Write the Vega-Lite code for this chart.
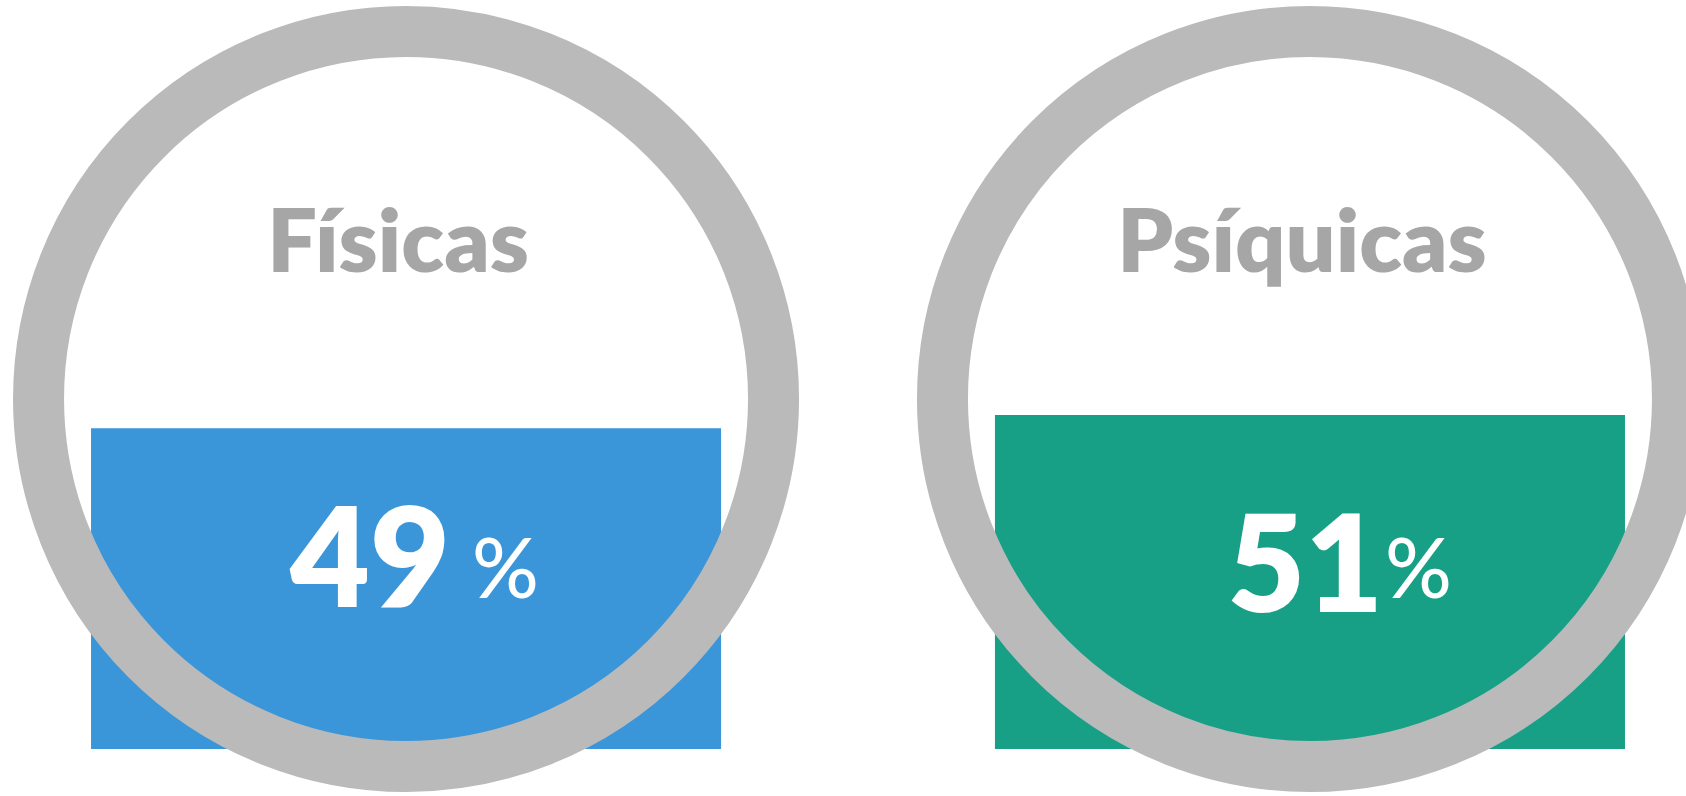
{
  "$schema": "https://vega.github.io/schema/vega-lite/v6.json",
  "width": 1686,
  "height": 796,
  "autosize": {"type": "none"},
  "padding": 0,
  "background": "white",
  "config": {"view": {"stroke": null}},
  "data": {"values": [
    {"cat": "Físicas", "value": 49},
    {"cat": "Psíquicas", "value": 51}
  ]},
  "encoding": {
    "x": {"field": "cat", "type": "nominal", "sort": null, "axis": null,
      "scale": {"type": "band", "range": [0, 1716], "paddingInner": 0.303, "paddingOuter": 0.1007}}
  },
  "layer": [
    {
      "mark": {"type": "bar"},
      "encoding": {
        "y": {"field": "value", "type": "quantitative", "axis": null,
          "scale": {"domain": [-7.18, 114.4], "nice": false, "zero": false}},
        "y2": {"datum": 0},
        "color": {"field": "cat", "type": "nominal", "legend": null,
          "scale": {"domain": ["Físicas", "Psíquicas"], "range": ["#3a96d9", "#17a086"]}}
      }
    },
    {
      "mark": {"type": "point", "shape": "circle", "filled": false, "stroke": "#bababa", "strokeWidth": 51, "size": 540225, "opacity": 1},
      "encoding": {"y": {"datum": 53.46, "type": "quantitative"}}
    },
    {
      "mark": {"type": "text", "font": "Lato", "fontWeight": 800, "fontSize": 88, "color": "#a6a6a6", "align": "center", "baseline": "alphabetic", "dx": -8},
      "encoding": {"text": {"field": "cat"}, "y": {"datum": 72.86, "type": "quantitative"}}
    },
    {
      "transform": [{"filter": "datum.cat === 'Físicas'"}],
      "mark": {"type": "text", "font": "Lato", "fontWeight": 800, "fontSize": 138, "color": "white", "align": "right", "baseline": "alphabetic", "dx": 44},
      "encoding": {"text": {"field": "value"}, "y": {"datum": 21.69, "type": "quantitative"}}
    },
    {
      "transform": [{"filter": "datum.cat === 'Físicas'"}],
      "mark": {"type": "text", "font": "Lato", "fontWeight": 500, "fontSize": 83, "color": "white", "align": "left", "baseline": "alphabetic", "dx": 66, "text": "%"},
      "encoding": {"y": {"datum": 23.06, "type": "quantitative"}}
    },
    {
      "transform": [{"filter": "datum.cat === 'Psíquicas'"}],
      "mark": {"type": "text", "font": "Lato", "fontWeight": 800, "fontSize": 134, "color": "white", "align": "right", "baseline": "alphabetic", "dx": 73},
      "encoding": {"text": {"field": "value"}, "y": {"datum": 20.93, "type": "quantitative"}}
    },
    {
      "transform": [{"filter": "datum.cat === 'Psíquicas'"}],
      "mark": {"type": "text", "font": "Lato", "fontWeight": 500, "fontSize": 83, "color": "white", "align": "left", "baseline": "alphabetic", "dx": 75, "text": "%"},
      "encoding": {"y": {"datum": 23.06, "type": "quantitative"}}
    }
  ]
}
